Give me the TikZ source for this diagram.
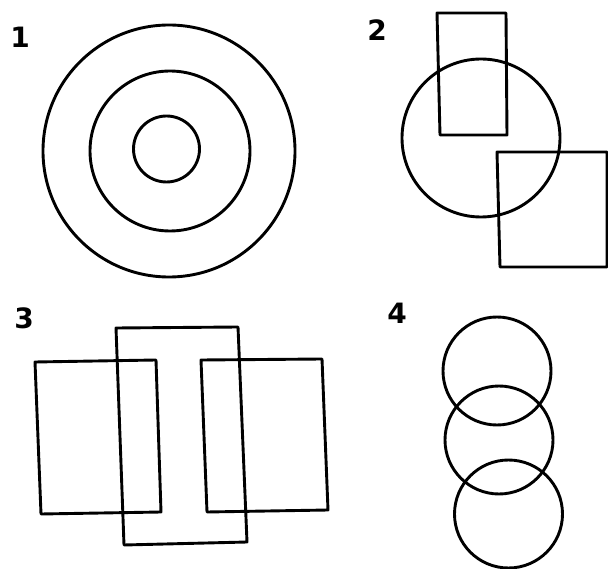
\documentclass[tikz,border=0pt]{standalone}
\usepackage{fontspec}
\newfontfamily\labelfont{DejaVu Sans}
\tikzset{
  shape line/.style={draw=black, line width=2.9pt, line join=round},
  panel label/.style={font=\labelfont\bfseries\fontsize{28}{30}\selectfont, inner sep=0pt, text=black}
}
\begin{document}
\begin{tikzpicture}[x=1pt,y=-1pt]
\useasboundingbox (0,0) rectangle (608,569);
\fill[white] (0,0) rectangle (608,569);
% labels
\node[panel label] (l1) at (20,37) {1};
\node[panel label] (l2) at (377,30) {2};
\node[panel label] (l3) at (24,318) {3};
\node[panel label] (l4) at (397,313) {4};
% panel 1: concentric circles
\draw[shape line] (169,151) circle (126);
\draw[shape line] (170,151) circle (80);
\draw[shape line] (166.5,149) circle (33);
% panel 2
\draw[shape line] (437,13) -- (506,13) -- (507,135) -- (440,135) -- cycle;
\draw[shape line] (481,138) circle (79);
\draw[shape line] (497,152) -- (607,152) -- (607,267) -- (500,267) -- cycle;
% panel 3
\draw[shape line] (35,362) -- (156,360) -- (161,512) -- (41,514) -- cycle;
\draw[shape line] (116,328) -- (238,327) -- (247,542) -- (124,545) -- cycle;
\draw[shape line] (201,360) -- (322,359) -- (328,510) -- (207,512) -- cycle;
% panel 4
\draw[shape line] (497,371) circle (54);
\draw[shape line] (499,440) circle (54);
\draw[shape line] (508.5,514) circle (54);
\end{tikzpicture}
\end{document}
